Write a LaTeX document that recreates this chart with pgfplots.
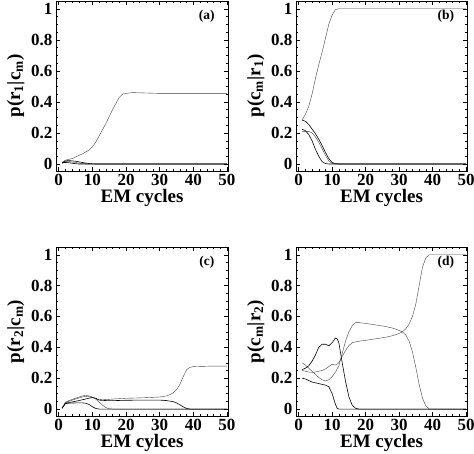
\documentclass[border=0pt]{standalone}
\usepackage{fontspec}
\setmainfont{Liberation Serif}
\usepackage{pgfplots}
\pgfplotsset{compat=1.18}

\pgfplotsset{emplot/.style={
    scale only axis, anchor=south west,
    xmin=-0.8, xmax=50.3, ymin=-0.045, ymax=1.05,
    xtick={0,10,20,30,40,50}, ytick={0,0.2,0.4,0.6,0.8,1},
    minor x tick num=4, minor y tick num=3,
    tick align=inside, major tick length=4pt, minor tick length=2pt,
    tick style={black, line width=0.4pt},
    axis line style={line width=0.8pt},
    ticklabel style={font=\fontsize{17}{17}\selectfont\bfseries},
    xticklabel style={inner sep=1pt, yshift=-2pt},
    /pgf/number format/assume math mode=true,
    label style={font=\fontsize{19}{19}\selectfont\bfseries},
    xlabel style={inner sep=0pt, yshift=-2.5pt},
    xlabel={EM cycles},
    cycle list={{black!75, line width=0.6pt}},
    every axis plot/.append style={no markers},
  }
}
\tikzset{panel/.style={font=\fontsize{13.5}{13.5}\selectfont\bfseries}}

\begin{document}
\begin{tikzpicture}
\path[use as bounding box] (0,0) rectangle (474pt,453pt);

% (a)
\begin{axis}[emplot, at={(56pt,282pt)}, width=172pt, height=170pt,
    ylabel={p(r\textsubscript{1}|c\textsubscript{m})}]
  \addplot coordinates {(1,0.01)(2,0.025)(3,0.03)(4,0.035)(5,0.045)(6,0.055)(7,0.065)(8,0.077)(9,0.09)(10,0.11)(11,0.14)(12,0.18)(13,0.22)(14,0.26)(15,0.305)(16,0.35)(17,0.39)(18,0.43)(19,0.45)(20,0.455)(22,0.46)(25,0.458)(30,0.455)(40,0.455)(50,0.455)};
  \addplot coordinates {(1,0.005)(2,0.02)(3,0.022)(4,0.02)(5,0.018)(6,0.014)(7,0.01)(8,0.006)(9,0.003)(10,0.001)(11,0)(50,0)};
  \addplot coordinates {(1,0.005)(2,0.015)(3,0.016)(4,0.013)(5,0.01)(6,0.006)(7,0.003)(8,0.001)(9,0)(50,0)};
  \addplot coordinates {(1,0.01)(2,0.01)(3,0.008)(4,0.005)(5,0.002)(6,0)(50,0)};
  \node[panel] at (axis cs:44,0.95) {(a)};
\end{axis}

% (b)
\begin{axis}[emplot, at={(296pt,282pt)}, width=171pt, height=170pt,
    ylabel={p(c\textsubscript{m}|r\textsubscript{1})}]
  \addplot coordinates {(1,0.283)(2,0.32)(3,0.37)(4,0.45)(5,0.55)(6,0.64)(7,0.72)(8,0.81)(9,0.9)(10,0.96)(11,0.995)(12,1)(50,1)};
  \addplot coordinates {(1,0.283)(2,0.275)(3,0.255)(4,0.225)(5,0.195)(6,0.16)(7,0.12)(8,0.075)(9,0.035)(10,0.01)(11,0.002)(12,0)(50,0)};
  \addplot coordinates {(1,0.21)(2,0.21)(3,0.21)(4,0.2)(5,0.175)(6,0.14)(7,0.1)(8,0.055)(9,0.02)(10,0.005)(11,0.001)(13,0)(50,0)};
  \addplot coordinates {(1,0.224)(2,0.215)(3,0.19)(4,0.15)(5,0.095)(6,0.05)(7,0.015)(8,0.003)(9,0)(50,0)};
  \node[panel] at (axis cs:44,0.95) {(b)};
\end{axis}

% (c)
\begin{axis}[emplot, at={(56pt,37pt)}, width=172pt, height=169pt,
    xlabel={EM cylces},
    ylabel={p(r\textsubscript{2}|c\textsubscript{m})}]
  \addplot coordinates {(1,0.005)(2,0.04)(3,0.05)(5,0.065)(7,0.078)(8,0.083)(9,0.08)(10,0.075)(11,0.068)(12,0.062)(13,0.06)(15,0.063)(17,0.066)(20,0.07)(25,0.073)(30,0.078)(32,0.085)(33,0.093)(34,0.105)(35,0.125)(36,0.16)(37,0.21)(38,0.255)(39,0.27)(40,0.275)(45,0.278)(50,0.278)};
  \addplot coordinates {(1,0.005)(2,0.038)(3,0.042)(5,0.05)(7,0.06)(9,0.07)(10,0.075)(11,0.07)(12,0.058)(14,0.055)(17,0.055)(20,0.057)(25,0.058)(30,0.058)(32,0.055)(34,0.048)(35,0.04)(36,0.028)(37,0.014)(38,0.004)(39,0)(50,0)};
  \addplot coordinates {(1,0.005)(2,0.045)(3,0.055)(5,0.07)(7,0.085)(8,0.088)(9,0.085)(10,0.078)(11,0.065)(12,0.045)(13,0.025)(14,0.01)(15,0.002)(16,0)(50,0)};
  \addplot coordinates {(1,0.005)(2,0.035)(3,0.038)(5,0.04)(7,0.04)(8,0.038)(9,0.03)(10,0.015)(11,0.004)(12,0)(50,0)};
  \node[panel] at (axis cs:44,0.95) {(c)};
\end{axis}

% (d)
\begin{axis}[emplot, at={(296pt,37pt)}, width=171pt, height=169pt,
    ylabel={p(c\textsubscript{m}|r\textsubscript{2})}]
  \addplot coordinates {(1,0.25)(2,0.245)(3,0.24)(4,0.238)(5,0.24)(6,0.245)(7,0.25)(8,0.26)(9,0.275)(10,0.29)(11,0.285)(12,0.3)(13,0.34)(14,0.38)(15,0.41)(16,0.43)(18,0.44)(20,0.445)(23,0.455)(26,0.465)(28,0.475)(30,0.49)(31,0.5)(32,0.52)(33,0.55)(34,0.6)(35,0.68)(36,0.8)(37,0.92)(38,0.98)(39,1)(50,1)};
  \addplot coordinates {(1,0.255)(2,0.265)(3,0.28)(4,0.31)(5,0.35)(6,0.4)(7,0.42)(8,0.42)(9,0.41)(10,0.43)(11,0.46)(11.5,0.455)(12,0.43)(13,0.3)(14,0.18)(15,0.08)(16,0.025)(17,0.005)(18,0)(50,0)};
  \addplot coordinates {(1,0.3)(2,0.285)(3,0.265)(4,0.245)(5,0.225)(6,0.205)(7,0.19)(8,0.182)(9,0.19)(10,0.21)(11,0.24)(12,0.28)(13,0.36)(14,0.44)(15,0.5)(16,0.54)(17,0.56)(18,0.56)(20,0.555)(23,0.545)(26,0.535)(28,0.525)(30,0.51)(31,0.5)(32,0.48)(33,0.44)(34,0.37)(35,0.27)(36,0.16)(37,0.07)(38,0.02)(39,0)(50,0)};
  \addplot coordinates {(1,0.2)(2,0.195)(3,0.185)(4,0.175)(5,0.17)(6,0.165)(7,0.16)(8,0.155)(9,0.145)(10,0.1)(11,0.03)(11.5,0.005)(12,0)(50,0)};
  \node[panel] at (axis cs:44,0.95) {(d)};
\end{axis}
\end{tikzpicture}
\end{document}
